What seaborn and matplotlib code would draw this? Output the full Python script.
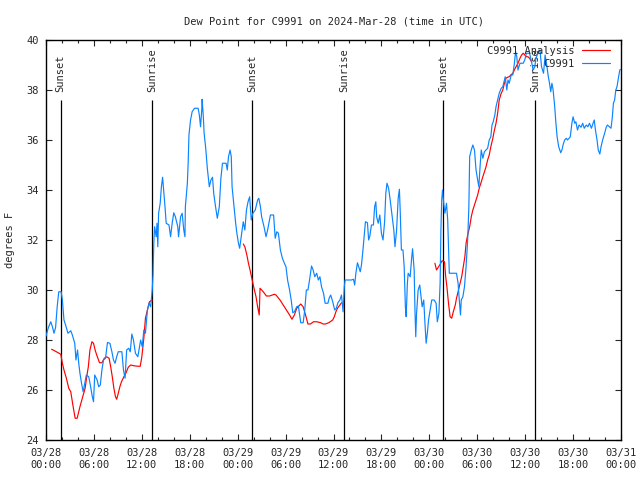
import numpy as np
import pandas as pd
import matplotlib
matplotlib.use("Agg")
import matplotlib.pyplot as plt
import seaborn as sns

# ==============================
# DATA (hours since 03/28 00:00 UTC, dew point in F)
# ==============================
obs_hours = [
    0.0, 0.3, 0.6, 0.8, 1.0, 1.2, 1.4, 1.6, 1.9, 2.05, 2.25, 2.45, 2.75, 3.1, 3.3, 3.6, 3.75, 3.95,
    4.1, 4.25, 4.45, 4.65, 4.85, 5.05, 5.35, 5.55, 5.8, 5.95, 6.1, 6.4, 6.6, 6.8, 7.0, 7.2, 7.45,
    7.7, 8.0, 8.25, 8.45, 8.65, 8.85, 9.05, 9.5, 9.7, 9.9, 10.1, 10.35, 10.55, 10.75, 10.95, 11.2,
    11.5, 11.85, 12.05, 12.25, 12.45, 12.7, 12.9, 13.1, 13.3, 13.4, 13.5, 13.6, 13.8, 13.9, 14.0,
    14.1, 14.3, 14.45, 14.6, 14.7, 14.9, 15.05, 15.4, 15.6, 15.8, 16.0, 16.2, 16.5, 16.6, 16.85,
    17.05, 17.25, 17.4, 17.45, 17.7, 17.8, 17.9, 18.1, 18.3, 18.6, 19.05, 19.2, 19.35, 19.5, 19.55,
    19.7, 19.8, 20.0, 20.2, 20.45, 20.65, 20.85, 21.0, 21.2, 21.45, 21.7, 21.9, 22.1, 22.55, 22.7,
    22.85, 23.05, 23.2, 23.3, 23.5, 23.75, 23.9, 24.1, 24.25, 24.5, 24.7, 24.9, 25.1, 25.3, 25.5,
    25.7, 25.9, 26.2, 26.5, 26.65, 26.85, 27.0, 27.3, 27.55, 27.75, 28.1, 28.5, 28.7, 28.9, 29.1,
    29.35, 29.6, 29.85, 30.05, 30.25, 30.5, 30.7, 30.9, 31.1, 31.4, 31.6, 31.9, 32.2, 32.4, 32.6,
    32.8, 33.0, 33.25, 33.45, 33.65, 33.9, 34.1, 34.3, 34.5, 34.75, 34.95, 35.3, 35.45, 35.65,
    35.9, 36.15, 36.35, 36.55, 36.8, 37.0, 37.2, 37.35, 37.45, 37.85, 38.25, 38.5, 38.65, 38.8,
    39.0, 39.15, 39.35, 39.5, 39.65, 39.8, 40.0, 40.25, 40.4, 40.55, 40.75, 41.0, 41.15, 41.3,
    41.4, 41.6, 41.8, 42.0, 42.2, 42.4, 42.55, 42.7, 42.9, 43.1, 43.35, 43.55, 43.7, 43.9, 44.1,
    44.25, 44.35, 44.5, 44.7, 44.85, 45.0, 45.1, 45.25, 45.35, 45.6, 45.8, 45.9, 46.1, 46.2, 46.3,
    46.4, 46.6, 46.8, 47.0, 47.1, 47.3, 47.45, 47.6, 47.75, 47.9, 48.1, 48.3, 48.6, 48.85, 49.0,
    49.2, 49.35, 49.45, 49.55, 49.65, 49.8, 49.95, 50.15, 50.3, 50.5, 50.65, 51.4, 51.6, 51.75,
    51.9, 52.0, 52.2, 52.4, 52.6, 52.8, 52.95, 53.05, 53.25, 53.45, 53.65, 53.85, 54.05, 54.2,
    54.35, 54.5, 54.7, 54.9, 55.1, 55.3, 55.5, 55.7, 55.85, 56.0, 56.2, 56.35, 56.55, 56.75, 57.0,
    57.2, 57.4, 57.5, 57.7, 57.85, 58.0, 58.25, 58.45, 58.65, 58.8, 58.95, 59.1, 59.35, 59.75,
    59.95, 60.15, 60.55, 60.8, 61.0, 61.2, 61.35, 61.6, 61.85, 62.05, 62.3, 62.5, 62.7, 62.9,
    63.05, 63.2, 63.35, 63.5, 63.7, 63.85, 64.0, 64.2, 64.45, 64.6, 64.8, 64.95, 65.15, 65.3,
    65.5, 65.65, 65.85, 66.0, 66.2, 66.35, 66.55, 66.75, 67.0, 67.2, 67.4, 67.65, 67.85, 68.05,
    68.3, 68.5, 68.65, 68.8, 69.0, 69.15, 69.35, 69.5, 69.7, 69.95, 70.15, 70.3, 70.55, 70.75,
    70.9, 71.05, 71.2, 71.35, 71.5, 71.7, 71.85, 72.0,
]
obs_values = [
    28.16, 28.5, 28.73, 28.53, 28.27, 28.5, 29.33, 29.93, 29.93, 29.6, 28.8, 28.6, 28.27, 28.37, 28.2, 27.87, 27.2, 27.6,
    27.07, 26.67, 26.27, 25.93, 26.27, 26.6, 26.53, 26.2, 25.73, 25.53, 26.6, 26.4, 26.13, 26.2, 26.8, 27.2, 27.27,
    27.9, 27.87, 27.53, 27.2, 27.07, 27.33, 27.53, 27.53, 26.8, 26.47, 27.6, 27.67, 27.53, 28.24, 28.0, 27.47,
    27.33, 28.0, 27.73, 28.4, 28.27, 29.2, 29.47, 29.33, 30.0, 30.6, 31.87, 32.53, 32.13, 32.67, 31.73,
    33.07, 33.47, 34.13, 34.51, 34.13, 33.33, 32.67, 32.6, 32.13, 32.67, 33.09, 32.93, 32.53, 32.13, 32.93,
    33.07, 32.4, 32.13, 33.33, 34.27, 35.07, 36.2, 36.8, 37.13, 37.27, 37.27, 37.0, 36.53, 37.2, 37.63,
    36.93, 36.27, 35.67, 34.87, 34.13, 34.4, 34.51, 33.87, 33.4, 32.87, 33.33, 34.47, 35.07, 35.07, 34.8,
    35.33, 35.6, 35.33, 34.13, 33.47, 32.67, 32.27, 31.87, 31.67, 32.27, 32.73, 32.4, 33.2, 33.53, 33.73,
    32.8, 33.07, 33.2, 33.6, 33.67, 33.33, 32.93, 32.53, 32.13, 32.4, 33.0, 33.0, 32.07, 32.33, 32.27,
    31.6, 31.27, 31.07, 30.93, 30.4, 30.0, 29.6, 29.09, 29.13, 29.33, 29.36, 28.69, 28.69, 29.2, 30.0,
    30.0, 30.4, 30.96, 30.8, 30.53, 30.67, 30.4, 30.53, 30.13, 29.87, 29.47, 29.47, 29.67, 29.8,
    29.53, 29.2, 29.27, 29.49, 29.6, 29.8, 29.13, 30.13, 30.4, 30.4, 30.4, 30.43, 30.2, 30.67,
    31.09, 30.93, 30.73, 31.0, 31.47, 32.0, 32.73, 32.69, 32.0, 32.16, 32.6, 32.6, 33.33, 33.53,
    32.93, 32.67, 33.0, 32.27, 32.0, 32.73, 33.87, 34.27, 34.07, 33.6, 32.93, 32.4, 31.73, 32.4, 33.67,
    34.03, 33.2, 31.6, 31.6, 30.93, 29.33, 28.93, 30.27, 30.67, 30.53, 31.33, 31.65, 30.8, 29.2, 28.13,
    29.07, 30.0, 30.2, 29.6, 29.33, 29.6, 28.67, 27.87, 28.27, 28.8, 29.2, 29.6, 29.6, 29.47, 28.73,
    29.07, 30.27, 32.4, 33.6, 34.0, 33.47, 33.07, 33.47, 32.8, 30.67, 30.67, 30.67, 30.27, 29.6,
    29.0, 29.6, 29.73, 30.13, 30.93, 32.0, 33.33, 35.33, 35.6, 35.8, 35.6, 34.8, 34.4, 34.13,
    34.93, 35.6, 35.27, 35.53, 35.6, 35.67, 36.0, 36.13, 36.6, 36.73, 37.0, 37.33, 37.6, 37.87, 38.07,
    38.13, 38.4, 38.53, 38.0, 38.4, 38.27, 38.6, 38.6, 39.07, 39.53, 39.33, 38.8, 39.07, 39.07,
    39.2, 39.47, 39.47, 39.13, 38.8, 38.93, 39.27, 39.47, 39.6, 38.93, 38.67, 39.4, 39.0, 38.53,
    38.27, 37.93, 38.27, 38.0, 37.33, 36.67, 36.13, 35.73, 35.49, 35.6, 35.87, 36.0, 36.07, 36.0,
    36.07, 36.13, 36.67, 36.93, 36.67, 36.73, 36.4, 36.6, 36.51, 36.67, 36.47, 36.6, 36.53, 36.67,
    36.47, 36.67, 36.8, 36.4, 36.0, 35.6, 35.44, 35.73, 36.0, 36.27, 36.51, 36.6, 36.53, 36.47,
    36.87, 37.47, 37.6, 38.0, 38.13, 38.53, 38.8, 38.83,
]

# analysis series comes in three separate pieces (gaps between)
ana1_hours = [0.7, 1.3, 1.85, 2.05, 2.25, 2.55, 2.85, 3.1, 3.4, 3.65, 3.9, 4.25, 4.6, 4.9, 5.1, 5.3,
              5.5, 5.75, 5.95, 6.15, 6.35, 6.7, 7.0, 7.3, 7.6, 7.9, 8.1, 8.3, 8.5, 8.7, 8.85, 9.05,
              9.25, 9.45, 9.75, 10.0, 10.3, 10.6, 11.0, 11.5, 11.8, 12.0, 12.25, 12.45, 12.7, 12.95, 13.3]
ana1_values = [27.63, 27.53, 27.43, 27.07, 26.8, 26.47, 26.07, 25.93, 25.33, 24.87, 24.87, 25.33, 25.73,
               26.07, 26.53, 26.93, 27.6, 27.93, 27.87, 27.6, 27.4, 27.09, 27.09, 27.27, 27.33, 27.27,
               26.93, 26.53, 26.07, 25.73, 25.63, 25.87, 26.13, 26.33, 26.53, 26.67, 26.91, 27.0, 26.97,
               26.95, 26.95, 27.33, 28.07, 28.87, 29.2, 29.53, 29.6]

ana2_hours = [24.7, 24.9, 25.15, 25.35, 25.55, 25.75, 26.0, 26.3, 26.5, 26.7, 26.8, 27.2, 27.6, 28.0,
              28.6, 28.8, 29.3, 29.7, 30.1, 30.5, 30.8, 31.1, 31.4, 31.9, 32.2, 32.5, 32.8, 33.1, 33.5,
              33.9, 34.4, 34.7, 35.0, 35.4, 35.9, 36.1, 36.3, 36.5, 36.8, 37.0]
ana2_values = [31.84, 31.73, 31.4, 31.07, 30.8, 30.5, 30.13, 29.73, 29.33, 29.0, 30.07, 29.93, 29.76,
               29.76, 29.83, 29.8, 29.6, 29.4, 29.2, 29.0, 28.83, 29.0, 29.27, 29.44, 29.33, 29.0, 28.64,
               28.64, 28.73, 28.73, 28.69, 28.64, 28.64, 28.69, 28.8, 28.93, 29.13, 29.27, 29.4, 29.49]

ana3_hours = [48.7, 48.9, 49.3, 49.6, 49.9, 50.05, 50.2, 50.4, 50.6, 50.8, 51.0, 51.25, 51.4, 51.6,
              51.85, 52.05, 52.25, 52.45, 52.6, 52.8, 53.05, 53.25, 53.45, 53.65, 53.85, 54.05, 54.25,
              54.45, 54.7, 54.9, 55.1, 55.3, 55.5, 55.7, 55.95, 56.15, 56.35, 56.55, 56.75, 57.0, 57.2,
              57.4, 57.6, 57.8, 58.0, 58.2, 58.45, 58.65, 58.85, 59.1, 59.35, 59.55, 59.75, 59.95, 60.15,
              60.35, 60.55, 60.8]
ana3_values = [31.07, 30.8, 31.0, 31.17, 31.13, 30.53, 30.13, 29.47, 28.93, 28.87, 29.13, 29.4, 29.67,
               29.93, 30.27, 30.53, 30.93, 31.33, 31.87, 32.2, 32.53, 32.93, 33.2, 33.4, 33.6, 33.8, 34.07,
               34.27, 34.53, 34.73, 34.93, 35.2, 35.4, 35.73, 36.07, 36.4, 36.67, 37.07, 37.6, 37.87, 38.0,
               38.27, 38.47, 38.51, 38.53, 38.6, 38.67, 38.8, 38.93, 39.07, 39.27, 39.4, 39.47, 39.4, 39.33,
               39.33, 39.27, 39.13]

sun_hours = [1.84, 13.32, 25.84, 37.36, 49.76, 61.28]
sun_labels = ["Sunset", "Sunrise", "Sunset", "Sunrise", "Sunset", "Sunrise"]

xtick_hours = [0, 6, 12, 18, 24, 30, 36, 42, 48, 54, 60, 66, 72]
xtick_labels = ["03/28\n00:00", "03/28\n06:00", "03/28\n12:00", "03/28\n18:00",
                "03/29\n00:00", "03/29\n06:00", "03/29\n12:00", "03/29\n18:00",
                "03/30\n00:00", "03/30\n06:00", "03/30\n12:00", "03/30\n18:00",
                "03/31\n00:00"]

# ==============================
# PLOT
# ==============================
sns.set_style("ticks")
plt.rcParams['font.family'] = ['DejaVu Sans Mono']
plt.rcParams['font.size'] = 7.5

red = "#ff0000"
blue = "#0a84ff"

fig = plt.figure(figsize=(6.4, 4.8), dpi=100)
ax = fig.add_axes([46 / 640, 40 / 480, 575 / 640, 400 / 480])

# sunrise / sunset markers
ax.vlines(sun_hours, 24, 37.6, color="black", linewidth=0.9, zorder=1)
for h, lab in zip(sun_hours, sun_labels):
    ax.text(h, 37.92, lab, rotation=90, ha="center", va="bottom", fontsize=7.5, zorder=1)

segments = [(ana1_hours, ana1_values), (ana2_hours, ana2_values), (ana3_hours, ana3_values)]
for i, (hh, vv) in enumerate(segments):
    seg = pd.DataFrame({"hour": hh, "dewpoint": vv})
    sns.lineplot(data=seg, x="hour", y="dewpoint", ax=ax, color=red, linewidth=0.85,
                 label="C9991 Analysis" if i == 0 else None, zorder=2)

obs = pd.DataFrame({"hour": obs_hours, "dewpoint": obs_values})
sns.lineplot(data=obs, x="hour", y="dewpoint", ax=ax, color=blue, linewidth=0.85,
             label="C9991", zorder=3)

ax.set_xlim(0, 72)
ax.set_ylim(24, 40)
ax.set_xticks(xtick_hours)
ax.set_xticklabels(xtick_labels)
ax.set_xticks(np.arange(0, 73, 2), minor=True)
ax.set_yticks(np.arange(24, 41, 2))

ax.tick_params(axis="both", which="major", direction="in", length=4, width=0.8,
               top=True, right=True, labelsize=7.5)
ax.tick_params(axis="x", which="minor", direction="in", length=2, width=0.8, top=True)
ax.tick_params(axis="x", which="major", pad=6)
ax.tick_params(axis="y", which="major", pad=5)
for s in ax.spines.values():
    s.set_linewidth(1.0)
    s.set_color("black")

ax.set_xlabel("")
ax.set_ylabel("degrees F", fontsize=7.5)
ax.yaxis.set_label_coords(-0.054, 0.5)
ax.set_title("Dew Point for C9991 on 2024-Mar-28 (time in UTC)", fontsize=7.5, pad=11)

ax.legend(loc="upper right", bbox_to_anchor=(0.981, 0.985), frameon=False, markerfirst=False,
          handlelength=2.7, handletextpad=0.7, labelspacing=0.25, borderpad=0, borderaxespad=0,
          fontsize=7.5)

fig.savefig("out.png", dpi=100)
